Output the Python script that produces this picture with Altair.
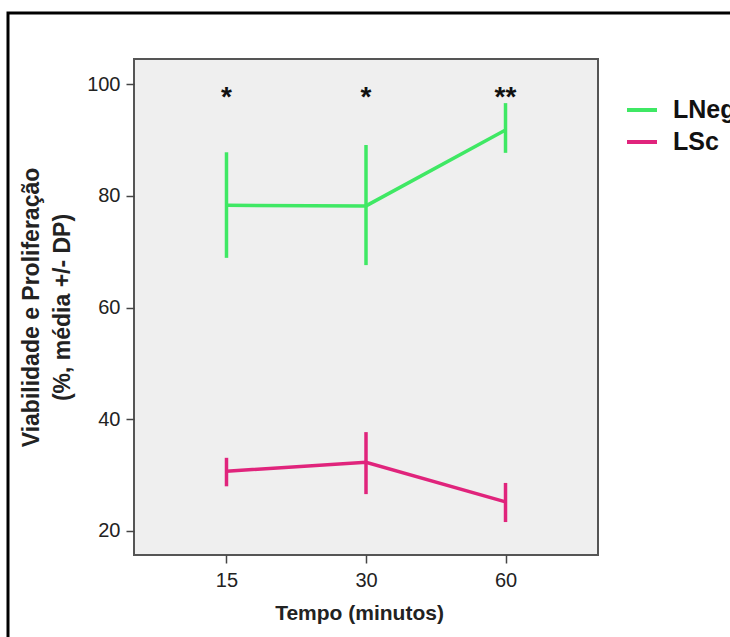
import altair as alt
import pandas as pd

# ---- data ----
tempo = ["15", "30", "60"]
series = ["LNeg", "LSc"]
lneg_mean = [78.3, 78.2, 91.8]
lneg_lo = [68.9, 67.6, 87.7]
lneg_hi = [87.8, 89.1, 96.6]
lsc_mean = [30.7, 32.3, 25.2]
lsc_lo = [28.0, 26.6, 21.6]
lsc_hi = [33.1, 37.7, 28.6]
sig_labels = ["*", "*", "**"]
sig_level = [96.0, 96.0, 96.0]

colors = ["#3fe864", "#e0247c"]
FONT = "Liberation Sans"

rows = []
for i, t in enumerate(tempo):
    rows.append({"tempo": t, "grupo": "LNeg", "media": lneg_mean[i], "lo": lneg_lo[i], "hi": lneg_hi[i]})
for i, t in enumerate(tempo):
    rows.append({"tempo": t, "grupo": "LSc", "media": lsc_mean[i], "lo": lsc_lo[i], "hi": lsc_hi[i]})
df = pd.DataFrame(rows)
sig = pd.DataFrame({"tempo": tempo, "label": sig_labels, "y": sig_level})

xscale = alt.Scale(type="point", domain=tempo, padding=0.663)
yscale = alt.Scale(domain=[15.7, 104.5], nice=False, zero=False)
cscale = alt.Scale(domain=series, range=colors)

x_enc = alt.X("tempo:O", scale=xscale, sort=tempo,
              axis=alt.Axis(title="Tempo (minutos)", labelAngle=0, labelAlign="center",
                            titleX=225))
y_enc = alt.Y("media:Q", scale=yscale,
              axis=alt.Axis(title=["Viabilidade e Proliferação", "(%, média +/- DP)"],
                            values=[20, 40, 60, 80, 100], grid=False))

base = alt.Chart(df)

lines = base.mark_line(strokeWidth=3.5).encode(
    x=x_enc, y=y_enc,
    color=alt.Color("grupo:N", scale=cscale, sort=series,
                    legend=alt.Legend(title=None)),
)

bars = base.mark_rule(strokeWidth=3.5).encode(
    x=alt.X("tempo:O", scale=xscale, sort=tempo),
    y=alt.Y("lo:Q", scale=yscale),
    y2="hi:Q",
    color=alt.Color("grupo:N", scale=cscale, sort=series),
)

stars = alt.Chart(sig).mark_text(
    font=FONT, fontSize=28, fontWeight="bold", color="#111", baseline="alphabetic"
).encode(
    x=alt.X("tempo:O", scale=xscale, sort=tempo),
    y=alt.Y("y:Q", scale=yscale),
    text="label:N",
)

frame = alt.Chart(pd.DataFrame({"f": [0]})).mark_rect(
    fillOpacity=0, stroke="#000", strokeWidth=3
).encode(
    x=alt.value(-126), x2=alt.value(700), y=alt.value(-46), y2=alt.value(700)
)

chart = alt.layer(frame, bars, lines, stars).properties(
    width=464, height=496,
    autosize=alt.AutoSizeParams(type="none"),
    padding={"left": 134, "top": 59, "right": 132, "bottom": 82},
    background="white",
).configure_view(
    fill="#efefef", stroke="#555555", strokeWidth=2
).configure_axis(
    domain=False, tickColor="#444", tickWidth=1.5, tickSize=8,
    labelFont=FONT, labelFontSize=20, labelColor="#222",
    titleFont=FONT, titleFontSize=21, titleFontWeight="bold", titleColor="#222",
).configure_axisY(
    labelPadding=6, titlePadding=12, titleLineHeight=31, titleFontSize=23,
).configure_axisX(
    labelPadding=17, titlePadding=12,
).configure_legend(
    orient="none", legendX=491, legendY=34,
    symbolType="stroke", symbolSize=900, symbolStrokeWidth=4,
    labelFont=FONT, labelFontSize=25, labelFontWeight="bold", labelColor="#111",
    labelOffset=14, rowPadding=2, padding=0,
)

chart.save("out.html", embed_options={"renderer": "svg", "actions": False})
